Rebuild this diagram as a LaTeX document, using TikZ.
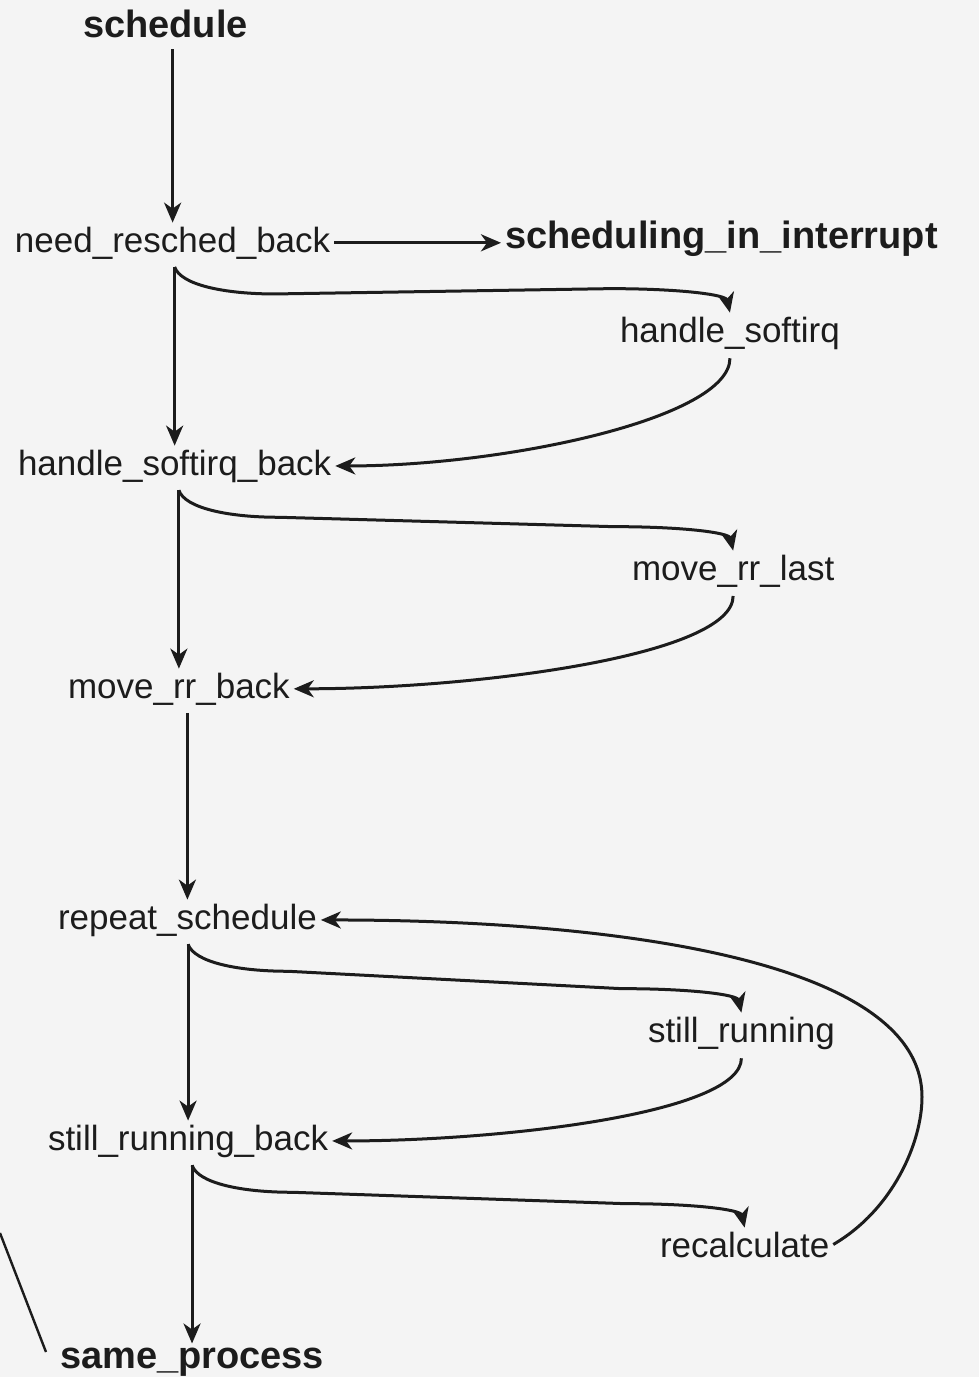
\documentclass[tikz,border=0pt]{standalone}
\usepackage{fontspec}
\setmainfont{Liberation Sans}
\usetikzlibrary{arrows.meta,calc}
\definecolor{ink}{HTML}{1C1C1C}
\definecolor{paper}{HTML}{F4F4F4}
\begin{document}
\begin{tikzpicture}[x=1pt,y=-1pt,
  lbl/.style={anchor=base west,inner sep=0pt,outer sep=4pt,font=\fontsize{35}{40}\selectfont,text=ink},
  blbl/.style={lbl,font=\fontsize{38}{44}\selectfont\bfseries},
  conn/.style={draw=ink,line width=3pt,-{Stealth[length=20pt,width=17pt,inset=6pt]}},
  plain/.style={draw=ink,line width=2.4pt}]
\fill[paper] (0,0) rectangle (979,1377);
\useasboundingbox (0,0) rectangle (979,1377);

\node[blbl] (sch) at (79,37) {schedule};
\node[lbl] (nrb) at (11,252) {need\_resched\_back};
\node[blbl] (sii) at (501,248) {scheduling\_in\_interrupt};
\node[lbl] (hs) at (616,342) {handle\_softirq};
\node[lbl] (hsb) at (14,475) {handle\_softirq\_back};
\node[lbl] (ml) at (628,580) {move\_rr\_last};
\node[lbl] (mrb) at (64,698) {move\_rr\_back};
\node[lbl] (rs) at (54,929) {repeat\_schedule};
\node[lbl] (sr) at (644,1042) {still\_running};
\node[lbl] (srb) at (44,1150) {still\_running\_back};
\node[lbl] (rc) at (656,1257) {recalculate};
\node[blbl] (sp) at (56,1368) {same\_process};

% branch points
\coordinate (b0) at ($(nrb.north |- sch.south)+(0,8)$);
\coordinate (b1) at ($(hsb.north |- nrb.south)+(0,4)$);
\coordinate (b2) at ($(mrb.north |- hsb.south)+(0,4)$);
\coordinate (b3) at ($(rs.north |- mrb.south)+(0,4)$);
\coordinate (b4) at ($(srb.north |- rs.south)+(0,4)$);
\coordinate (b5) at ($(sp.north |- srb.south)+(0,4)$);

% main vertical flow
\draw[conn] (b0) -- (nrb.north);
\draw[conn] (b1) -- (hsb.north);
\draw[conn] (b2) -- (mrb.north);
\draw[conn] (b3) -- (rs.north);
\draw[conn] (b4) -- (srb.north);
\draw[conn] (b5) -- (sp.north);

% side exit
\draw[conn] (nrb.east) -- (nrb.east -| sii.west);

% excursions out
\draw[conn] (b1) .. controls +(6,18) and +(-50,0) .. ($(b1)+(100,27)$)
  -- ($(hs.north)+(-120,-24)$) .. controls +(70,0) and +(-4,-18) .. (hs.north);
\draw[conn] (b2) .. controls +(6,18) and +(-50,0) .. ($(b2)+(100,27)$)
  -- ($(ml.north)+(-120,-24)$) .. controls +(70,0) and +(-4,-18) .. (ml.north);
\draw[conn] (b4) .. controls +(6,18) and +(-50,0) .. ($(b4)+(100,27)$)
  -- ($(sr.north)+(-120,-24)$) .. controls +(70,0) and +(-4,-18) .. (sr.north);
\draw[conn] (b5) .. controls +(6,18) and +(-50,0) .. ($(b5)+(100,27)$)
  -- ($(rc.north)+(-120,-24)$) .. controls +(70,0) and +(-4,-18) .. (rc.north);

% returns
\draw[conn,shorten <=5pt] (hs.south) .. controls +(0,65) and +(170,0) .. (hsb.east);
\draw[conn,shorten <=5pt] (ml.south) .. controls +(0,65) and +(180,0) .. (mrb.east);
\draw[conn,shorten <=5pt] (sr.south) .. controls +(0,60) and +(170,0) .. (srb.east);

% loop back from recalculate
\coordinate (turn) at (922,1097);
\draw[conn] (rc.east) .. controls +(60,-35) and +(0,45) .. (turn)
  .. controls +(0,-140) and +(280,0) .. (rs.east);

% stray stroke at lower left
\coordinate (m1) at (0,1233);
\coordinate (m2) at (46,1352);
\draw[plain] (m1) -- (m2);
\end{tikzpicture}
\end{document}
